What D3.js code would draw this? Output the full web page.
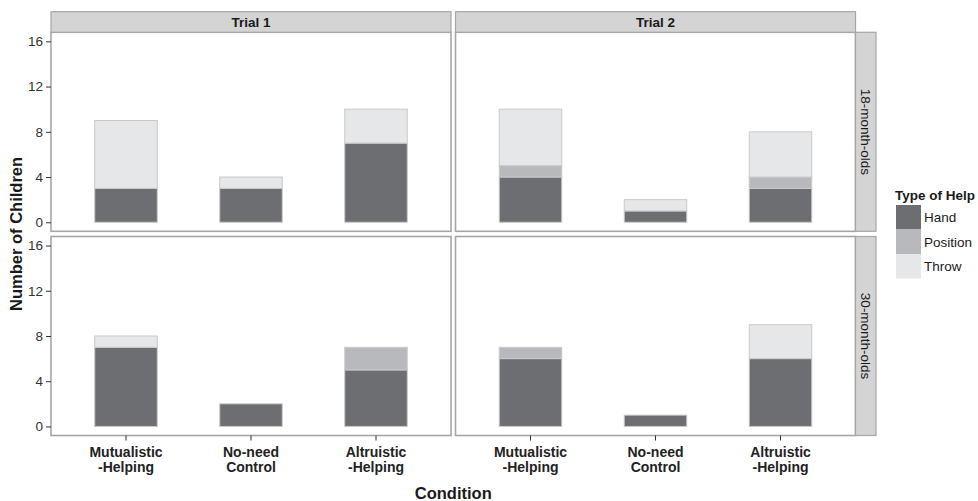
<!DOCTYPE html>
<html>
<head>
<meta charset="utf-8">
<script src="https://cdn.jsdelivr.net/npm/d3@7/dist/d3.min.js"></script>
<style>
  html, body { margin: 0; padding: 0; background: #fff; }
  svg { display: block; font-family: "Liberation Sans", Arial, sans-serif; }
</style>
</head>
<body>
<svg id="chart" width="978" height="501"></svg>
<script>
/* Faceted stacked bars: type of help by condition, trial and age group */

const CONDITIONS = ["Mutualistic-Helping", "No-need Control", "Altruistic-Helping"];
const CONDITION_LINES = [["Mutualistic", "-Helping"], ["No-need", "Control"], ["Altruistic", "-Helping"]];
const TRIALS = ["Trial 1", "Trial 2"];
const AGES = ["18-month-olds", "30-month-olds"];
const HELP_TYPES = ["Hand", "Position", "Throw"];
const Y_TICKS = [0, 4, 8, 12, 16];

// one row per panel: 18mo T1, 18mo T2, 30mo T1, 30mo T2 ; columns follow CONDITIONS
const handCounts = [[3, 3, 7], [4, 1, 3], [7, 2, 5], [6, 1, 6]];
const positionCounts = [[0, 0, 0], [1, 0, 1], [0, 0, 2], [1, 0, 0]];
const throwCounts = [[6, 1, 3], [5, 1, 4], [1, 0, 0], [0, 0, 3]];

const HELP_COLORS = ["#6d6e71", "#b8b9bc", "#e6e7e8"];

const svg = d3.select("#chart");

const panelLeft = [51, 455.5];
const panelW = 400;
const rowTop = [32.3, 236.5];
const panelH = 199;
const stripTop = 11.7;
const stripX = 855.5;
const stripW = 20.5;
const BORDER = "#a6a6a6";
const STRIP_FILL = "#d4d4d4";

const color = d3.scaleOrdinal().domain(HELP_TYPES).range(HELP_COLORS);

const x = d3.scaleBand()
  .domain(CONDITIONS)
  .range([0, panelW])
  .paddingInner(0.5)
  .paddingOuter(0.35);

const y = d3.scaleLinear().domain([-0.8, 16.8]).range([panelH, 0]);

const stack = d3.stack().keys(HELP_TYPES);

function panelRows(p) {
  return CONDITIONS.map((c, i) => ({
    condition: c,
    Hand: handCounts[p][i],
    Position: positionCounts[p][i],
    Throw: throwCounts[p][i],
  }));
}

AGES.forEach((age, r) => {
  TRIALS.forEach((trial, c) => {
    const p = r * TRIALS.length + c;
    const g = svg.append("g").attr("transform", `translate(${panelLeft[c]},${rowTop[r]})`);

    g.append("rect")
      .attr("width", panelW).attr("height", panelH)
      .attr("fill", "#fff");

    const series = stack(panelRows(p));
    g.selectAll("g.layer")
      .data(series)
      .join("g")
      .attr("class", "layer")
      .attr("fill", (d) => color(d.key))
      .selectAll("rect")
      .data((d) => d.filter((s) => s[1] > s[0]))
      .join("rect")
      .attr("x", (d) => x(d.data.condition))
      .attr("width", x.bandwidth())
      .attr("y", (d) => y(d[1]))
      .attr("height", (d) => y(d[0]) - y(d[1]))
      .attr("stroke", "#c9c9cb")
      .attr("stroke-width", 1);

    g.append("rect")
      .attr("width", panelW).attr("height", panelH)
      .attr("fill", "none")
      .attr("stroke", BORDER)
      .attr("stroke-width", 1.6);

    // y axis on the left column
    if (c === 0) {
      const ay = g.append("g").call(d3.axisLeft(y).tickValues(Y_TICKS).tickSize(5).tickPadding(3));
      ay.select(".domain").remove();
      ay.selectAll("line").attr("stroke", "#333");
      ay.selectAll("text")
        .attr("fill", "#333")
        .style("font-size", "13.5px")
        .style("font-family", "Liberation Sans, Arial, sans-serif");
    }

    // x axis on the bottom row
    if (r === AGES.length - 1) {
      const ax = g.append("g")
        .attr("transform", `translate(0,${panelH})`)
        .call(d3.axisBottom(x).tickSize(5).tickFormat(""));
      ax.select(".domain").remove();
      ax.selectAll("line").attr("stroke", "#333");
      ax.selectAll(".tick").each(function (d, i) {
        const t = d3.select(this).append("text")
          .attr("fill", "#222")
          .attr("text-anchor", "middle")
          .style("font-size", "14px")
          .style("font-weight", "bold");
        CONDITION_LINES[i].forEach((line, k) => {
          t.append("tspan").attr("x", 0).attr("y", 21 + k * 15.5).text(line);
        });
      });
    }

    // trial strips over the top row
    if (r === 0) {
      svg.append("rect")
        .attr("x", panelLeft[c]).attr("y", stripTop)
        .attr("width", panelW).attr("height", rowTop[0] - stripTop)
        .attr("fill", STRIP_FILL).attr("stroke", BORDER).attr("stroke-width", 1.2);
      svg.append("text")
        .attr("x", panelLeft[c] + panelW / 2)
        .attr("y", stripTop + 15.2)
        .attr("text-anchor", "middle")
        .attr("fill", "#1a1a1a")
        .style("font-size", "13.5px")
        .style("font-weight", "bold")
        .text(trial);
    }

    // age strips on the right column
    if (c === TRIALS.length - 1) {
      svg.append("rect")
        .attr("x", stripX).attr("y", rowTop[r])
        .attr("width", stripW).attr("height", panelH)
        .attr("fill", STRIP_FILL).attr("stroke", BORDER).attr("stroke-width", 1.2);
      svg.append("text")
        .attr("transform", `translate(${stripX + stripW / 2 - 5},${rowTop[r] + panelH / 2}) rotate(90)`)
        .attr("text-anchor", "middle")
        .attr("fill", "#1a1a1a")
        .style("font-size", "13.5px")
        .text(age);
    }
  });
});

// axis titles
svg.append("text")
  .attr("transform", `translate(22,${(rowTop[0] + rowTop[1] + panelH) / 2}) rotate(-90)`)
  .attr("text-anchor", "middle")
  .attr("fill", "#1a1a1a")
  .style("font-size", "16.5px")
  .style("font-weight", "bold")
  .text("Number of Children");

svg.append("text")
  .attr("x", (panelLeft[0] + panelLeft[1] + panelW) / 2)
  .attr("y", 499)
  .attr("text-anchor", "middle")
  .attr("fill", "#1a1a1a")
  .style("font-size", "16.5px")
  .style("font-weight", "bold")
  .text("Condition");

// legend
const legend = svg.append("g").attr("transform", "translate(895,205)");
legend.append("text")
  .attr("x", 0).attr("y", -5)
  .attr("fill", "#1a1a1a")
  .style("font-size", "13.5px")
  .style("font-weight", "bold")
  .text("Type of Help");

const keySize = 24.5;
const keys = legend.selectAll("g.key")
  .data(HELP_TYPES)
  .join("g")
  .attr("class", "key")
  .attr("transform", (d, i) => `translate(1,${i * keySize})`);
keys.append("rect")
  .attr("width", 25).attr("height", keySize)
  .attr("fill", (d) => color(d));
keys.append("text")
  .attr("x", 28).attr("y", keySize / 2 + 5)
  .attr("fill", "#1a1a1a")
  .style("font-size", "13.5px")
  .text((d) => d);
</script>
</body>
</html>
